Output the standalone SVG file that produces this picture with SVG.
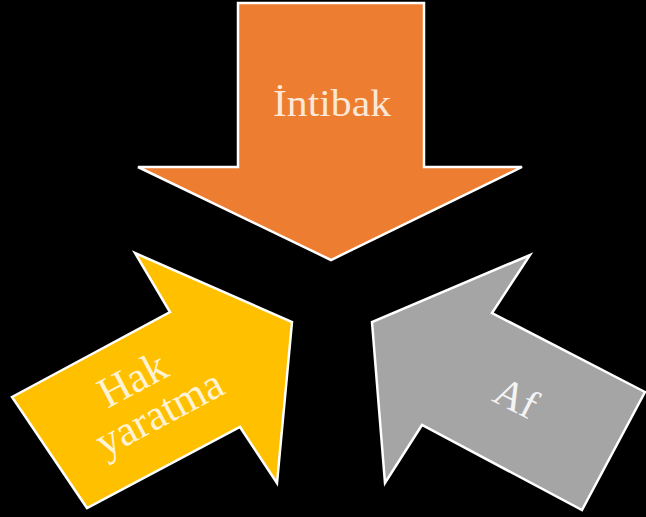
<svg xmlns="http://www.w3.org/2000/svg" width="646" height="517" viewBox="0 0 646 517">
<style>
.arrow{stroke:#ffffff;stroke-width:2.5;stroke-linejoin:miter}
.lbl{font-family:"Liberation Serif","Times New Roman",serif;text-anchor:middle}
</style>
<rect x="0" y="0" width="646" height="517" fill="#000000"/>
<g id="intibak">
<polygon class="arrow" fill="#ED7D31" points="238,3 424,3 424,167 522,167 331,260 138,167 238,167"/>
<text class="lbl" x="332" y="116" font-size="37" fill="#FCE8D8" textLength="118" lengthAdjust="spacingAndGlyphs">İntibak</text>
</g>
<g id="hak-yaratma">
<polygon class="arrow" fill="#FFC000" points="12,397 170,312 135,253 292,322 277,483 240,427 87,508"/>
<g transform="translate(139,392) rotate(-28)">
<text class="lbl" x="0" y="0" font-size="43" fill="#FFF3D6">Hak</text>
<text class="lbl" x="8" y="42" font-size="43" fill="#FFF3D6">yaratma</text>
</g>
</g>
<g id="af">
<polygon class="arrow" fill="#A5A5A5" points="645,392 492,313 530,255 372,322 385,483 422,425 582,510"/>
<g transform="translate(510,410) rotate(27)">
<text class="lbl" x="0" y="0" font-size="41" fill="#F4F4F4">Af</text>
</g>
</g>
<g id="connectors"/>
</svg>
